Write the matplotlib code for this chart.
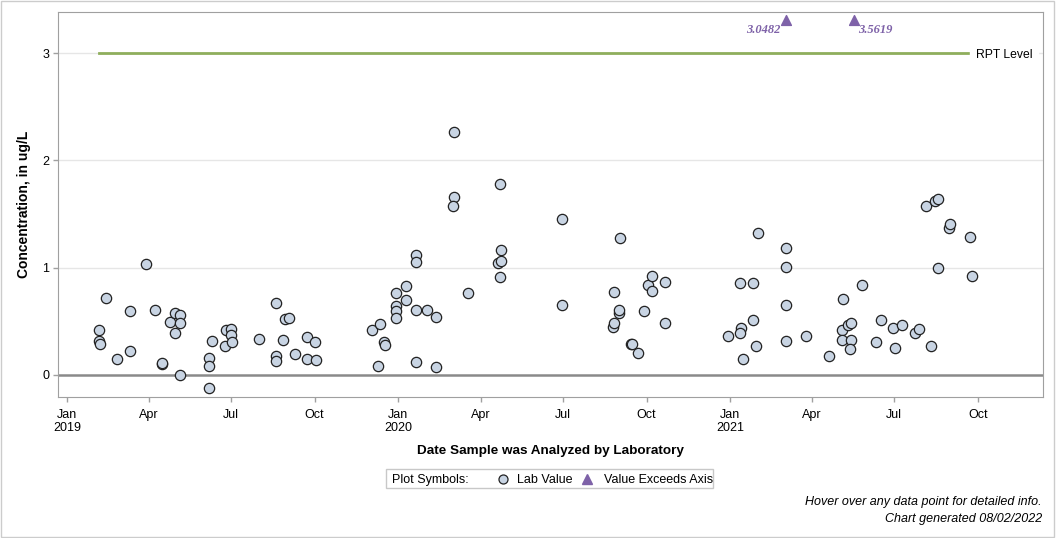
import pandas as pd
import numpy as np
import matplotlib
matplotlib.use('Agg')
import matplotlib.pyplot as plt
from matplotlib.lines import Line2D
from matplotlib.patches import Rectangle

plt.rcParams['font.family'] = ['Liberation Sans', 'DejaVu Sans']

# Lab values (date analyzed, concentration ug/L)
lab_dates = [
    '2019-02-05', '2019-02-05', '2019-02-06', '2019-02-13', '2019-02-25', '2019-03-11', '2019-03-11',
    '2019-03-29', '2019-04-08', '2019-04-16', '2019-04-16', '2019-04-25', '2019-04-30', '2019-04-30',
    '2019-05-05', '2019-05-05', '2019-05-05', '2019-06-06', '2019-06-06', '2019-06-06', '2019-06-10',
    '2019-06-24', '2019-06-25', '2019-07-01', '2019-07-01', '2019-07-02', '2019-08-01', '2019-08-19',
    '2019-08-19', '2019-08-19', '2019-08-27', '2019-08-29', '2019-09-03', '2019-09-09', '2019-09-22',
    '2019-09-22', '2019-10-01', '2019-10-02',
    '2019-12-03', '2019-12-10', '2019-12-12', '2019-12-16', '2019-12-17', '2019-12-30', '2019-12-30',
    '2019-12-30', '2019-12-30', '2020-01-10', '2020-01-10', '2020-01-21', '2020-01-21', '2020-01-21',
    '2020-01-21', '2020-02-02', '2020-02-12', '2020-02-12', '2020-03-03', '2020-03-03', '2020-03-02',
    '2020-03-18', '2020-04-20', '2020-04-22', '2020-04-22', '2020-04-23', '2020-04-23', '2020-06-30',
    '2020-06-30', '2020-08-25', '2020-08-26', '2020-08-26', '2020-08-31', '2020-09-01', '2020-09-02',
    '2020-09-14', '2020-09-15', '2020-09-22', '2020-09-28', '2020-10-03', '2020-10-07', '2020-10-07',
    '2020-10-21', '2020-10-21',
    '2020-12-30', '2021-01-13', '2021-01-12', '2021-01-12', '2021-01-15', '2021-01-26', '2021-01-26',
    '2021-01-30', '2021-02-01', '2021-03-04', '2021-03-04', '2021-03-04', '2021-03-04', '2021-03-26',
    '2021-04-20', '2021-05-05', '2021-05-04', '2021-05-04', '2021-05-11', '2021-05-14', '2021-05-14',
    '2021-05-13', '2021-05-26', '2021-06-16', '2021-06-11', '2021-06-30', '2021-07-02', '2021-07-10',
    '2021-07-24', '2021-07-28', '2021-08-05', '2021-08-11', '2021-08-15', '2021-08-18', '2021-08-18',
    '2021-08-30', '2021-08-31', '2021-09-23', '2021-09-25',
]
lab_values = [
    0.42, 0.32, 0.29, 0.72, 0.15, 0.60, 0.22,
    1.03, 0.61, 0.10, 0.11, 0.49, 0.58, 0.39,
    0.56, 0.48, 0.00, 0.16, 0.08, -0.12, 0.32,
    0.27, 0.42, 0.43, 0.37, 0.31, 0.34, 0.67,
    0.18, 0.13, 0.33, 0.52, 0.53, 0.20, 0.35,
    0.15, 0.31, 0.14,
    0.42, 0.08, 0.475, 0.31, 0.28, 0.76, 0.64,
    0.60, 0.53, 0.83, 0.70, 1.115, 1.05, 0.61,
    0.12, 0.61, 0.54, 0.07, 2.26, 1.66, 1.57,
    0.76, 1.04, 1.78, 0.91, 1.16, 1.06, 1.45,
    0.65, 0.45, 0.48, 0.77, 0.58, 0.61, 1.28,
    0.29, 0.285, 0.205, 0.60, 0.835, 0.92, 0.78,
    0.87, 0.485,
    0.36, 0.435, 0.39, 0.86, 0.146, 0.86, 0.51,
    0.27, 1.32, 1.18, 1.01, 0.65, 0.32, 0.36,
    0.18, 0.71, 0.42, 0.325, 0.47, 0.485, 0.325,
    0.24, 0.835, 0.51, 0.31, 0.435, 0.25, 0.465,
    0.39, 0.425, 1.575, 0.27, 1.62, 1.64, 1.00,
    1.37, 1.41, 1.29, 0.92,
]

# values above the axis
over_dates = ['2021-03-04', '2021-05-18']
over_values = [3.0482, 3.5619]

rpt_level = 3
rpt_start, rpt_end = '2019-02-05', '2021-09-25'

lab_dates = pd.to_datetime(lab_dates)
over_dates = pd.to_datetime(over_dates)

circ_face, circ_edge = '#c8d4e3', '#222222'
purple = '#7e62a8'

fig = plt.figure(figsize=(10.56, 5.38), dpi=100)
ax = fig.add_axes([58/1056, 141/538, 985/1056, 385/538])

ymin, ymax = -0.205, 3.382
ax.set_ylim(ymin, ymax)
ax.set_xlim(pd.Timestamp('2018-12-22'), pd.Timestamp('2021-12-12'))

for v in [1, 2, 3]:
    ax.axhline(v, color='#e6e6e6', lw=1, zorder=0)
ax.axhline(0, color='#8a8a8a', lw=1.8, zorder=1)

ax.plot(pd.to_datetime([rpt_start, rpt_end]), [rpt_level, rpt_level], color='#8fae5c', lw=2, zorder=2)
ax.text(pd.Timestamp(rpt_end) + pd.Timedelta(days=4), rpt_level, 'RPT Level', va='center_baseline',
        ha='left', fontsize=8.7, color='black', backgroundcolor='white', zorder=3)

ax.scatter(lab_dates, lab_values, s=55, facecolor=circ_face, edgecolor=circ_edge, lw=0.9, zorder=4)

# exceeding values clipped to the top of the axis
y_tri = ymax - 0.075
ax.scatter(over_dates, [y_tri] * len(over_dates), marker='^', s=50, color=purple, zorder=4)
for i, (d, v) in enumerate(zip(over_dates, over_values)):
    if i == 0:
        ax.annotate('%.4f' % v, (d, y_tri), xytext=(-4.5, -7.5), textcoords='offset points',
                    ha='right', va='center', fontsize=9, color=purple,
                    fontweight='bold', fontstyle='italic', family='Liberation Serif')
    else:
        ax.annotate('%.4f' % v, (d, y_tri), xytext=(3, -7.5), textcoords='offset points',
                    ha='left', va='center', fontsize=9, color=purple,
                    fontweight='bold', fontstyle='italic', family='Liberation Serif')

ticks = pd.date_range('2019-01-01', '2021-10-01', freq='QS')
labels = [t.strftime('%b') + ('\n' + str(t.year) if t.month == 1 else '') for t in ticks]
ax.set_xticks(ticks)
ax.set_xticklabels(labels, fontsize=9)
ax.set_yticks([0, 1, 2, 3])
ax.set_yticklabels(['0', '1', '2', '3'], fontsize=9)
ax.tick_params(colors='#a0a0a0', labelcolor='black', length=3.6, width=1, pad=2.5)
ax.tick_params(axis='x', pad=4.7)

for s in ax.spines.values():
    s.set_color('#a0a0a0')

ax.set_ylabel('Concentration, in ug/L', fontsize=10, fontweight='bold', labelpad=8)
ax.set_xlabel('Date Sample was Analyzed by Laboratory', fontsize=9.7, fontweight='bold', labelpad=8)

# legend box
fig.patches.append(Rectangle((386/1056, 1 - 488/538), 327/1056, 19/538, transform=fig.transFigure,
                             facecolor='white', edgecolor='#c8c8c8', lw=1))
ly = 1 - 478.5/538
fig.text(392/1056, ly, 'Plot Symbols:', ha='left', va='center_baseline', fontsize=9)
fig.add_artist(Line2D([503/1056], [ly], marker='o', markersize=6.5, markerfacecolor=circ_face,
                      markeredgecolor=circ_edge, markeredgewidth=0.9, transform=fig.transFigure))
fig.text(517/1056, ly, 'Lab Value', ha='left', va='center_baseline', fontsize=9)
fig.add_artist(Line2D([587/1056], [ly], marker='^', markersize=7.5, color=purple,
                      transform=fig.transFigure))
fig.text(604/1056, ly, 'Value Exceeds Axis', ha='left', va='center_baseline', fontsize=9)

fig.text(1042/1056, 1 - 502/538, 'Hover over any data point for detailed info.', ha='right',
         va='center', fontsize=9, fontstyle='italic')
fig.text(1042/1056, 1 - 519/538, 'Chart generated 08/02/2022', ha='right', va='center',
         fontsize=9, fontstyle='italic')

fig.patches.append(Rectangle((0.0005, 0.001), 0.998, 0.997, transform=fig.transFigure, fill=False,
                             edgecolor='#cccccc', lw=1))

fig.savefig('out.png', dpi=100)
